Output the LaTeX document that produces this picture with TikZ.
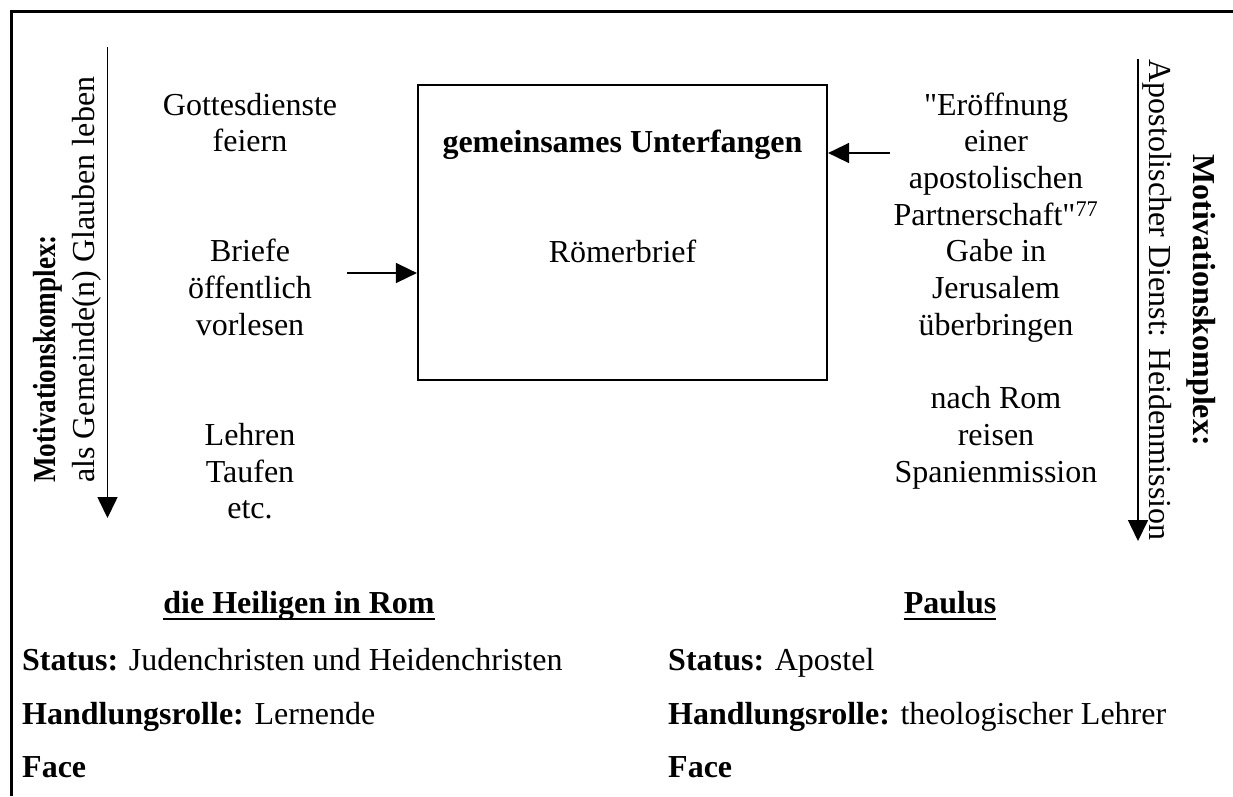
\documentclass[tikz,border=0pt]{standalone}
\usepackage{fontspec}
\usepackage{graphicx}
\setmainfont{Liberation Serif}[Ligatures=TeXOff]
\usetikzlibrary{arrows.meta}
\begin{document}
\begin{tikzpicture}[x=1pt,y=-1pt,
  txt/.style={inner sep=0pt, font=\fontsize{32}{36.7}\selectfont},
  bold/.style={txt, font=\fontsize{32}{36.7}\selectfont\bfseries},
  col/.style={txt, align=center, anchor=base},
  line/.style={txt, anchor=base west},
  head/.style={bold, anchor=base},
  uline/.style={line width=2.6pt},
  arr/.style={line width=1.6pt, -{Triangle[length=21pt,width=20pt]}},
  frame/.style={line width=3pt},
  boxstyle/.style={draw, line width=2.2pt, minimum width=409pt, minimum height=295pt, inner sep=0pt}]
\useasboundingbox (0,0) rectangle (1233,796);
% outer frame (open to the right and bottom)
\draw[frame] (11,796) -- (11,11) -- (1233,11);

% central box
\node[boxstyle] (box) at (622.5,232.5) {};
\node[bold, anchor=base] (title) at (622.5,152) {gemeinsames Unterfangen};
\node[txt, anchor=base] (roemer) at (622.5,262) {Römerbrief};

% left column of activities (base = last line)
\node[col] (g1) at (250,151.7) {Gottesdienste\\feiern};
\node[col] (g2) at (250,335.2) {Briefe\\öffentlich\\vorlesen};
\node[col] (g3) at (250,518.7) {Lehren\\Taufen\\etc.};

% right column of activities
\node[col] (p1) at (996,482) {"Eröffnung\\einer\\apostolischen\\Partnerschaft"\textsuperscript{77}\\Gabe in\\Jerusalem\\überbringen\\[36.7pt]nach Rom\\reisen\\Spanienmission};

% motivation arrows
\coordinate (la) at (107.5,47);
\coordinate (lb) at (107.5,518);
\draw[arr] (la) -- (lb);
\coordinate (ra) at (1138,59);
\coordinate (rb) at (1138,541);
\draw[arr] (ra) -- (rb);

% rotated motivation labels
\node[bold, rotate=90, anchor=base west] (lm1) at (55,483) {\scalebox{0.85}[1]{Motivationskomplex:}};
\node[txt, rotate=90, anchor=base west] (lm2) at (94,483) {als Gemeinde(n) Glauben leben};
\node[bold, rotate=-90, anchor=base] (rm1) at (1193,300) {Motivationskomplex:};
\node[txt, rotate=-90, anchor=base] (rm2) at (1149,300) {Apostolischer Dienst: Heidenmission};

% arrows into the box
\coordinate (lin) at (347,273);
\draw[arr] (lin) -- (lin -| box.west);
\coordinate (rin) at (890,153);
\draw[arr] (rin) -- (rin -| box.east);

% parties
\node[head] (h1) at (299,613) {die Heiligen in Rom};
\node[head] (h2) at (950,613) {Paulus};
\draw[uline] ([yshift=-6pt]h1.base west) -- ([yshift=-6pt]h1.base east);
\draw[uline] ([yshift=-6pt]h2.base west) -- ([yshift=-6pt]h2.base east);

\node[line] (s1) at (22,670) {\textbf{Status:} Judenchristen und Heidenchristen};
\node[line] (r1) at (22,724) {\textbf{Handlungsrolle:} Lernende};
\node[line] (f1) at (22,777) {\textbf{Face}};
\node[line] (s2) at (668,670) {\textbf{Status:} Apostel};
\node[line] (r2) at (668,724) {\textbf{Handlungsrolle:} theologischer Lehrer};
\node[line] (f2) at (668,777) {\textbf{Face}};
\end{tikzpicture}
\end{document}
